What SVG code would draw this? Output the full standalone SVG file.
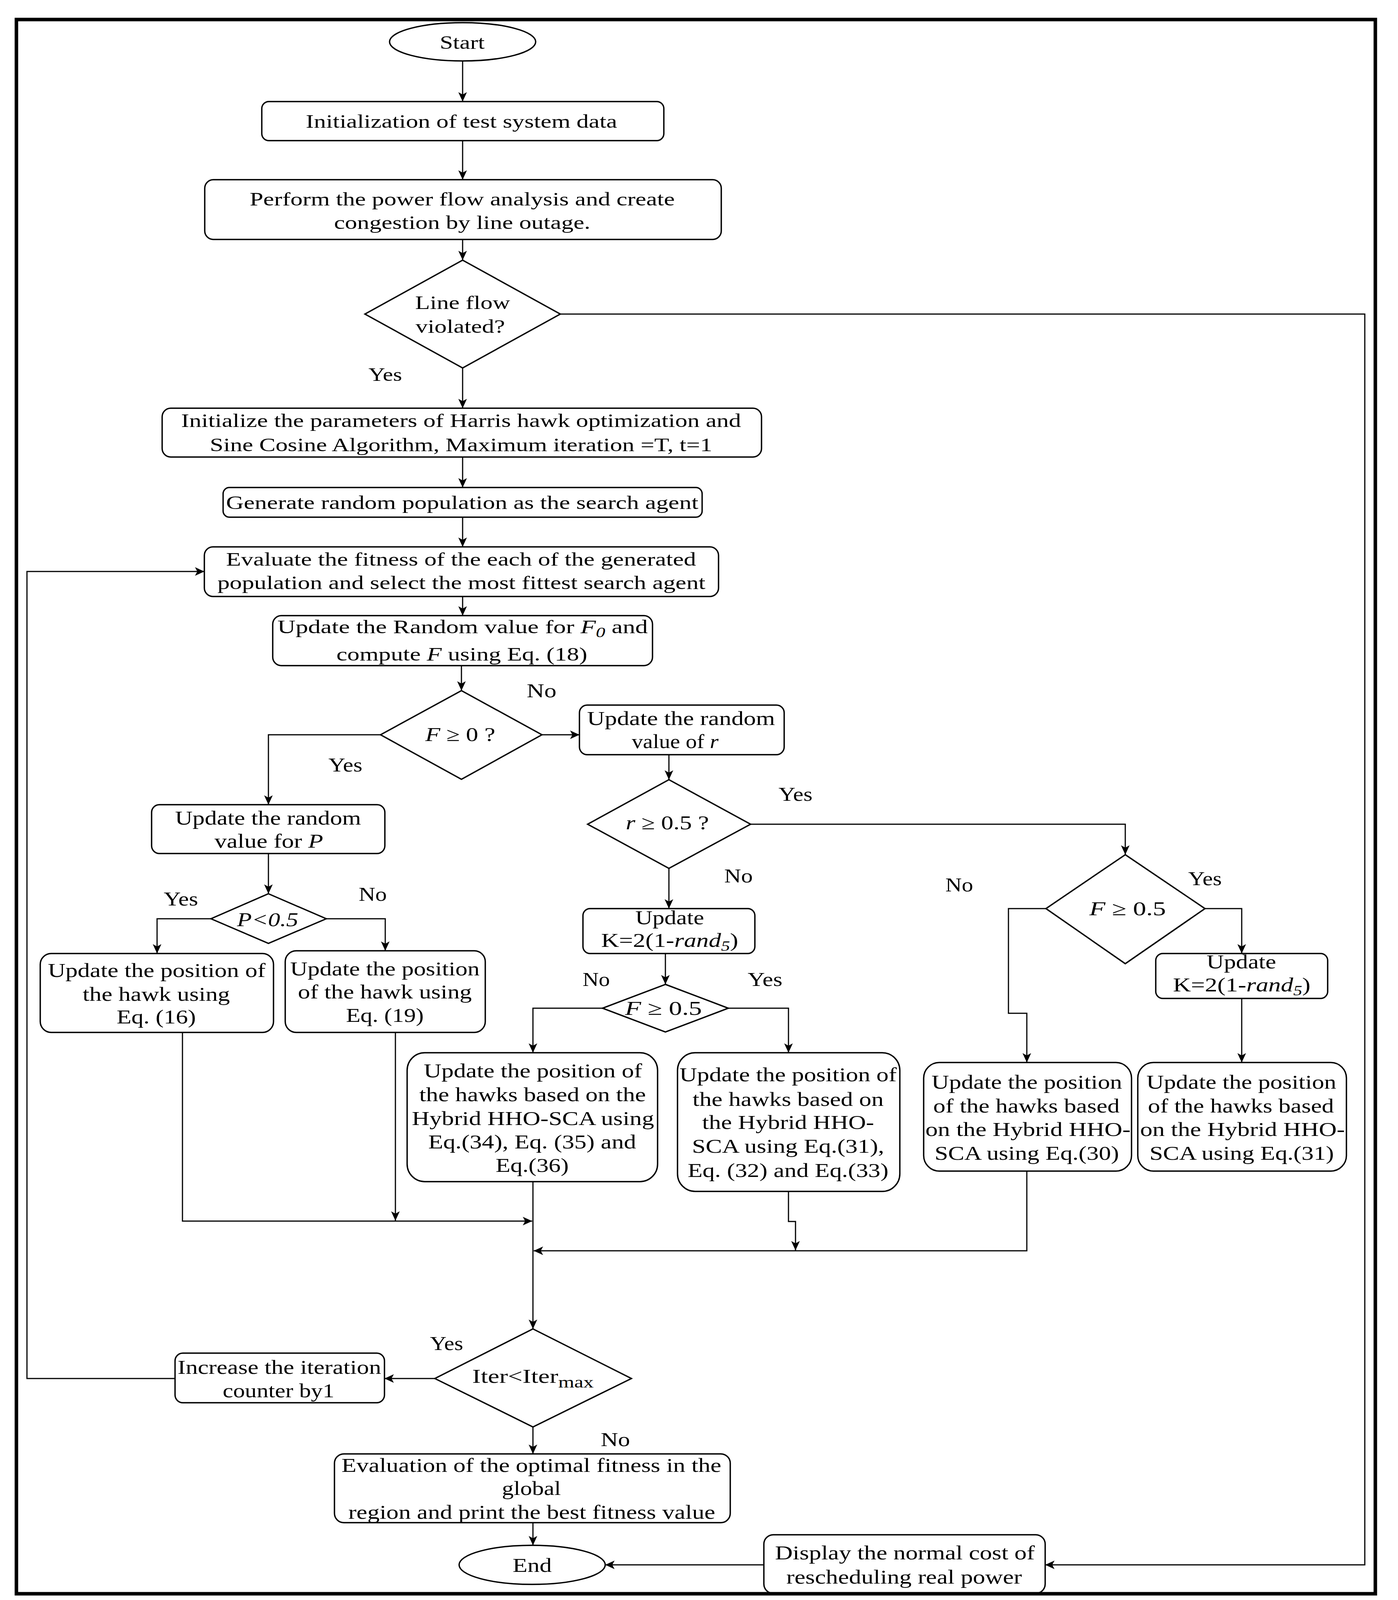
<svg xmlns="http://www.w3.org/2000/svg" width="3578" height="4260" viewBox="0 0 3578 4260">
<defs>
<style>
.n{fill:#fff;stroke:#000;stroke-width:3.5}
.c{fill:none;stroke:#000;stroke-width:3;marker-end:url(#a)}
.t{font-family:"Liberation Serif","Times New Roman",serif;font-size:50px;fill:#000;text-anchor:middle}
.s{font-size:48px}
.i{font-style:italic}
</style>
<marker id="a" markerUnits="userSpaceOnUse" markerWidth="26" markerHeight="22" refX="24" refY="11" orient="auto"><path d="M0,0 L24,11 L0,22 L6,11 z" fill="#000"/></marker>
</defs>
<rect width="3578" height="4260" fill="#fff"/>

<g id="connectors">
<path class="c" d="M1184,156 V260"/>
<path class="c" d="M1184,360 V460"/>
<path class="c" d="M1184,613 V666"/>
<path class="c" d="M1184,942 V1045"/>
<path class="c" d="M1184,1170 V1248"/>
<path class="c" d="M1184,1324 V1400"/>
<path class="c" d="M1184,1527 V1576"/>
<path class="c" d="M1181,1704 V1768"/>
<path class="c" d="M1387,1881 H1483"/>
<path class="c" d="M974,1881 H687 V2060"/>
<path class="c" d="M687,2185 V2288"/>
<path class="c" d="M540,2352 H402 V2441"/>
<path class="c" d="M835,2352 H986 V2434"/>
<path class="c" d="M467,2643 V3126 H1362"/>
<path class="c" d="M1012,2643 V3125"/>
<path class="c" d="M1712,1932 V1996"/>
<path class="c" d="M1921,2110 H2880 V2188"/>
<path class="c" d="M1712,2223 V2326"/>
<path class="c" d="M1703,2441 V2520"/>
<path class="c" d="M1542,2581 H1364 V2695"/>
<path class="c" d="M1864,2581 H2018 V2695"/>
<path class="c" d="M1364,3025 V3402"/>
<path class="c" d="M2018,3050 V3127 H2036 V3201"/>
<path class="c" d="M2628,2998 V3202 H1366"/>
<path class="c" d="M2677,2326 H2581 V2594 H2628 V2720"/>
<path class="c" d="M3084,2326 H3178 V2441"/>
<path class="c" d="M3178,2556 V2720"/>
<path class="c" d="M1113,3529 H984"/>
<path class="c" d="M448,3529 H69 V1463 H523"/>
<path class="c" d="M1364,3653 V3722"/>
<path class="c" d="M1364,3898 V3956"/>
<path class="c" d="M1434,804 H3493 V4006 H2675"/>
<path class="c" d="M1955,4006 H1549"/>
</g>

<g id="start">
<ellipse class="n" cx="1184" cy="107" rx="187" ry="49"/>
<text class="t s" x="1183" y="125" textLength="115" lengthAdjust="spacingAndGlyphs">Start</text>
</g>

<g id="init-data">
<rect class="n" x="670" y="260" width="1029" height="100" rx="18"/>
<text class="t s" x="1181" y="327" textLength="797" lengthAdjust="spacingAndGlyphs">Initialization of test system data</text>
</g>

<g id="power-flow">
<rect class="n" x="524" y="460" width="1322" height="153" rx="22"/>
<text class="t s" x="1183" y="526" textLength="1088" lengthAdjust="spacingAndGlyphs">Perform the power flow analysis and create</text>
<text class="t s" x="1183" y="586" textLength="656" lengthAdjust="spacingAndGlyphs">congestion by line outage.</text>
</g>

<g id="line-flow">
<polygon class="n" points="1184,666 1434,804 1184,942 934,804"/>
<text class="t s" x="1184" y="791" textLength="243" lengthAdjust="spacingAndGlyphs">Line flow</text>
<text class="t s" x="1178" y="852" textLength="229" lengthAdjust="spacingAndGlyphs">violated?</text>
<text class="t s" x="986" y="975" textLength="86" lengthAdjust="spacingAndGlyphs">Yes</text>
</g>

<g id="init-params">
<rect class="n" x="415" y="1045" width="1534" height="125" rx="22"/>
<text class="t s" x="1180" y="1093" textLength="1433" lengthAdjust="spacingAndGlyphs">Initialize the parameters of Harris hawk optimization and</text>
<text class="t s" x="1180" y="1155" textLength="1286" lengthAdjust="spacingAndGlyphs">Sine Cosine Algorithm, Maximum iteration =T, t=1</text>
</g>

<g id="generate">
<rect class="n" x="571" y="1248" width="1226" height="76" rx="16"/>
<text class="t s" x="1183" y="1303" textLength="1209" lengthAdjust="spacingAndGlyphs">Generate random population as the search agent</text>
</g>

<g id="evaluate">
<rect class="n" x="523" y="1400" width="1316" height="127" rx="22"/>
<text class="t s" x="1180" y="1448" textLength="1203" lengthAdjust="spacingAndGlyphs">Evaluate the fitness of the each of the generated</text>
<text class="t s" x="1181" y="1508" textLength="1249" lengthAdjust="spacingAndGlyphs">population and select the most fittest search agent</text>
</g>

<g id="update-f0">
<rect class="n" x="698" y="1576" width="972" height="128" rx="22"/>
<text class="t s" x="1184" y="1621" textLength="948" lengthAdjust="spacingAndGlyphs">Update the Random value for <tspan class="i">F</tspan><tspan class="i" font-size="36" dy="10">0</tspan><tspan dy="-10">  and</tspan></text>
<text class="t s" x="1182" y="1691" textLength="642" lengthAdjust="spacingAndGlyphs">compute <tspan class="i">F</tspan> using Eq. (18)</text>
</g>

<g id="f-ge-0">
<polygon class="n" points="1181,1768 1387,1881 1181,1995 974,1881"/>
<text class="t" x="1178" y="1897" textLength="179" lengthAdjust="spacingAndGlyphs"><tspan class="i">F</tspan> ≥ 0 ?</text>
<text class="t" x="1386" y="1785" textLength="76" lengthAdjust="spacingAndGlyphs">No</text>
<text class="t" x="884" y="1975" textLength="87" lengthAdjust="spacingAndGlyphs">Yes</text>
</g>

<g id="update-r">
<rect class="n" x="1483" y="1805" width="524" height="127" rx="20"/>
<text class="t" x="1743" y="1856" textLength="481" lengthAdjust="spacingAndGlyphs">Update the random</text>
<text class="t" x="1728" y="1915" textLength="222" lengthAdjust="spacingAndGlyphs">value of <tspan class="i">r</tspan></text>
</g>

<g id="update-p">
<rect class="n" x="388" y="2060" width="597" height="125" rx="20"/>
<text class="t" x="686" y="2111" textLength="476" lengthAdjust="spacingAndGlyphs">Update the random</text>
<text class="t" x="688" y="2170" textLength="278" lengthAdjust="spacingAndGlyphs">value for <tspan class="i">P</tspan></text>
</g>

<g id="p-lt-05">
<polygon class="n" points="687,2288 835,2352 687,2415 540,2352"/>
<text class="t i" x="685" y="2371" textLength="157" lengthAdjust="spacingAndGlyphs">P&lt;0.5</text>
<text class="t" x="463" y="2318" textLength="88" lengthAdjust="spacingAndGlyphs">Yes</text>
<text class="t" x="954" y="2306" textLength="72" lengthAdjust="spacingAndGlyphs">No</text>
</g>

<g id="eq16">
<rect class="n" x="103" y="2441" width="597" height="202" rx="28"/>
<text class="t" x="401" y="2501" textLength="557" lengthAdjust="spacingAndGlyphs">Update the position of</text>
<text class="t" x="400" y="2562" textLength="377" lengthAdjust="spacingAndGlyphs">the hawk using</text>
<text class="t" x="400" y="2620" textLength="203" lengthAdjust="spacingAndGlyphs">Eq. (16)</text>
</g>

<g id="eq19">
<rect class="n" x="730" y="2434" width="512" height="209" rx="28"/>
<text class="t" x="985" y="2497" textLength="485" lengthAdjust="spacingAndGlyphs">Update the position</text>
<text class="t" x="985" y="2556" textLength="445" lengthAdjust="spacingAndGlyphs">of the hawk using</text>
<text class="t" x="985" y="2616" textLength="199" lengthAdjust="spacingAndGlyphs">Eq. (19)</text>
</g>

<g id="r-ge-05">
<polygon class="n" points="1712,1996 1921,2110 1712,2223 1504,2110"/>
<text class="t" x="1708" y="2123" textLength="213" lengthAdjust="spacingAndGlyphs"><tspan class="i">r</tspan> ≥ 0.5 ?</text>
<text class="t" x="2036" y="2050" textLength="87" lengthAdjust="spacingAndGlyphs">Yes</text>
<text class="t" x="1890" y="2259" textLength="73" lengthAdjust="spacingAndGlyphs">No</text>
</g>

<g id="k-left">
<rect class="n" x="1492" y="2326" width="440" height="115" rx="18"/>
<text class="t" x="1714" y="2366" textLength="176" lengthAdjust="spacingAndGlyphs">Update</text>
<text class="t" x="1714" y="2424" textLength="351" lengthAdjust="spacingAndGlyphs">K=2(1-<tspan class="i">rand</tspan><tspan class="i" font-size="36" dy="10">5</tspan><tspan dy="-10">)</tspan></text>
</g>

<g id="f-ge-05-left">
<polygon class="n" points="1703,2520 1864,2581 1703,2642 1542,2581"/>
<text class="t" x="1698" y="2598" textLength="197" lengthAdjust="spacingAndGlyphs"><tspan class="i">F</tspan> ≥  0.5</text>
<text class="t" x="1526" y="2524" textLength="70" lengthAdjust="spacingAndGlyphs">No</text>
<text class="t" x="1958" y="2524" textLength="89" lengthAdjust="spacingAndGlyphs">Yes</text>
</g>

<g id="eq34-36">
<rect class="n" x="1042" y="2695" width="641" height="330" rx="45"/>
<text class="t" x="1364" y="2758" textLength="559" lengthAdjust="spacingAndGlyphs">Update the position of</text>
<text class="t" x="1363" y="2819" textLength="580" lengthAdjust="spacingAndGlyphs">the hawks based on the</text>
<text class="t" x="1364" y="2880" textLength="620" lengthAdjust="spacingAndGlyphs">Hybrid HHO-SCA using</text>
<text class="t" x="1362" y="2940" textLength="532" lengthAdjust="spacingAndGlyphs">Eq.(34), Eq. (35) and</text>
<text class="t" x="1362" y="3000" textLength="187" lengthAdjust="spacingAndGlyphs">Eq.(36)</text>
</g>

<g id="eq31-33">
<rect class="n" x="1734" y="2695" width="569" height="355" rx="45"/>
<text class="t" x="2017" y="2768" textLength="556" lengthAdjust="spacingAndGlyphs">Update the position of</text>
<text class="t" x="2017" y="2831" textLength="489" lengthAdjust="spacingAndGlyphs">the hawks based on</text>
<text class="t" x="2017" y="2890" textLength="440" lengthAdjust="spacingAndGlyphs">the Hybrid HHO-</text>
<text class="t" x="2017" y="2951" textLength="492" lengthAdjust="spacingAndGlyphs">SCA using Eq.(31),</text>
<text class="t" x="2017" y="3013" textLength="514" lengthAdjust="spacingAndGlyphs">Eq. (32) and Eq.(33)</text>
</g>

<g id="f-ge-05-right">
<polygon class="n" points="2880,2188 3084,2326 2880,2467 2677,2326"/>
<text class="t" x="2886" y="2343" textLength="196" lengthAdjust="spacingAndGlyphs"><tspan class="i">F</tspan> ≥  0.5</text>
<text class="t" x="2455" y="2282" textLength="71" lengthAdjust="spacingAndGlyphs">No</text>
<text class="t" x="3084" y="2266" textLength="86" lengthAdjust="spacingAndGlyphs">Yes</text>
</g>

<g id="k-right">
<rect class="n" x="2958" y="2441" width="440" height="115" rx="18"/>
<text class="t" x="3177" y="2479" textLength="178" lengthAdjust="spacingAndGlyphs">Update</text>
<text class="t" x="3178" y="2538" textLength="352" lengthAdjust="spacingAndGlyphs">K=2(1-<tspan class="i">rand</tspan><tspan class="i" font-size="36" dy="10">5</tspan><tspan dy="-10">)</tspan></text>
</g>

<g id="eq30">
<rect class="n" x="2364" y="2720" width="532" height="278" rx="40"/>
<text class="t" x="2628" y="2787" textLength="488" lengthAdjust="spacingAndGlyphs">Update the position</text>
<text class="t" x="2627" y="2848" textLength="477" lengthAdjust="spacingAndGlyphs">of the hawks based</text>
<text class="t" x="2631" y="2908" textLength="525" lengthAdjust="spacingAndGlyphs">on the Hybrid HHO-</text>
<text class="t" x="2628" y="2969" textLength="472" lengthAdjust="spacingAndGlyphs">SCA using Eq.(30)</text>
</g>

<g id="eq31">
<rect class="n" x="2912" y="2720" width="534" height="278" rx="40"/>
<text class="t" x="3177" y="2787" textLength="486" lengthAdjust="spacingAndGlyphs">Update the position</text>
<text class="t" x="3176" y="2848" textLength="476" lengthAdjust="spacingAndGlyphs">of the hawks based</text>
<text class="t" x="3180" y="2908" textLength="524" lengthAdjust="spacingAndGlyphs">on the Hybrid HHO-</text>
<text class="t" x="3178" y="2969" textLength="472" lengthAdjust="spacingAndGlyphs">SCA using Eq.(31)</text>
</g>

<g id="iter-check">
<polygon class="n" points="1364,3402 1616,3529 1364,3653 1113,3529"/>
<text class="t" x="1364" y="3540" textLength="311" lengthAdjust="spacingAndGlyphs">Iter&lt;Iter<tspan font-size="40" dy="12">max</tspan></text>
<text class="t" x="1143" y="3456" textLength="85" lengthAdjust="spacingAndGlyphs">Yes</text>
<text class="t" x="1575" y="3702" textLength="75" lengthAdjust="spacingAndGlyphs">No</text>
</g>

<g id="increase">
<rect class="n" x="448" y="3464" width="536" height="127" rx="20"/>
<text class="t" x="715" y="3517" textLength="521" lengthAdjust="spacingAndGlyphs">Increase the iteration</text>
<text class="t" x="713" y="3577" textLength="286" lengthAdjust="spacingAndGlyphs">counter by1</text>
</g>

<g id="evaluation">
<rect class="n" x="856" y="3722" width="1013" height="176" rx="24"/>
<text class="t" x="1360" y="3768" textLength="972" lengthAdjust="spacingAndGlyphs">Evaluation of the optimal fitness in the</text>
<text class="t" x="1360" y="3827" textLength="151" lengthAdjust="spacingAndGlyphs">global</text>
<text class="t" x="1361" y="3888" textLength="939" lengthAdjust="spacingAndGlyphs">region and print the best fitness value</text>
</g>

<g id="end">
<ellipse class="n" cx="1362" cy="4006" rx="187" ry="50"/>
<text class="t" x="1362" y="4024" textLength="100" lengthAdjust="spacingAndGlyphs">End</text>
</g>

<g id="display">
<rect class="n" x="1955" y="3929" width="720" height="150" rx="24"/>
<text class="t" x="2316" y="3992" textLength="665" lengthAdjust="spacingAndGlyphs">Display the normal cost of</text>
<text class="t" x="2314" y="4054" textLength="603" lengthAdjust="spacingAndGlyphs">rescheduling real power</text>
</g>

<rect x="42" y="50" width="3478" height="4030" fill="none" stroke="#000" stroke-width="9"/>
</svg>
